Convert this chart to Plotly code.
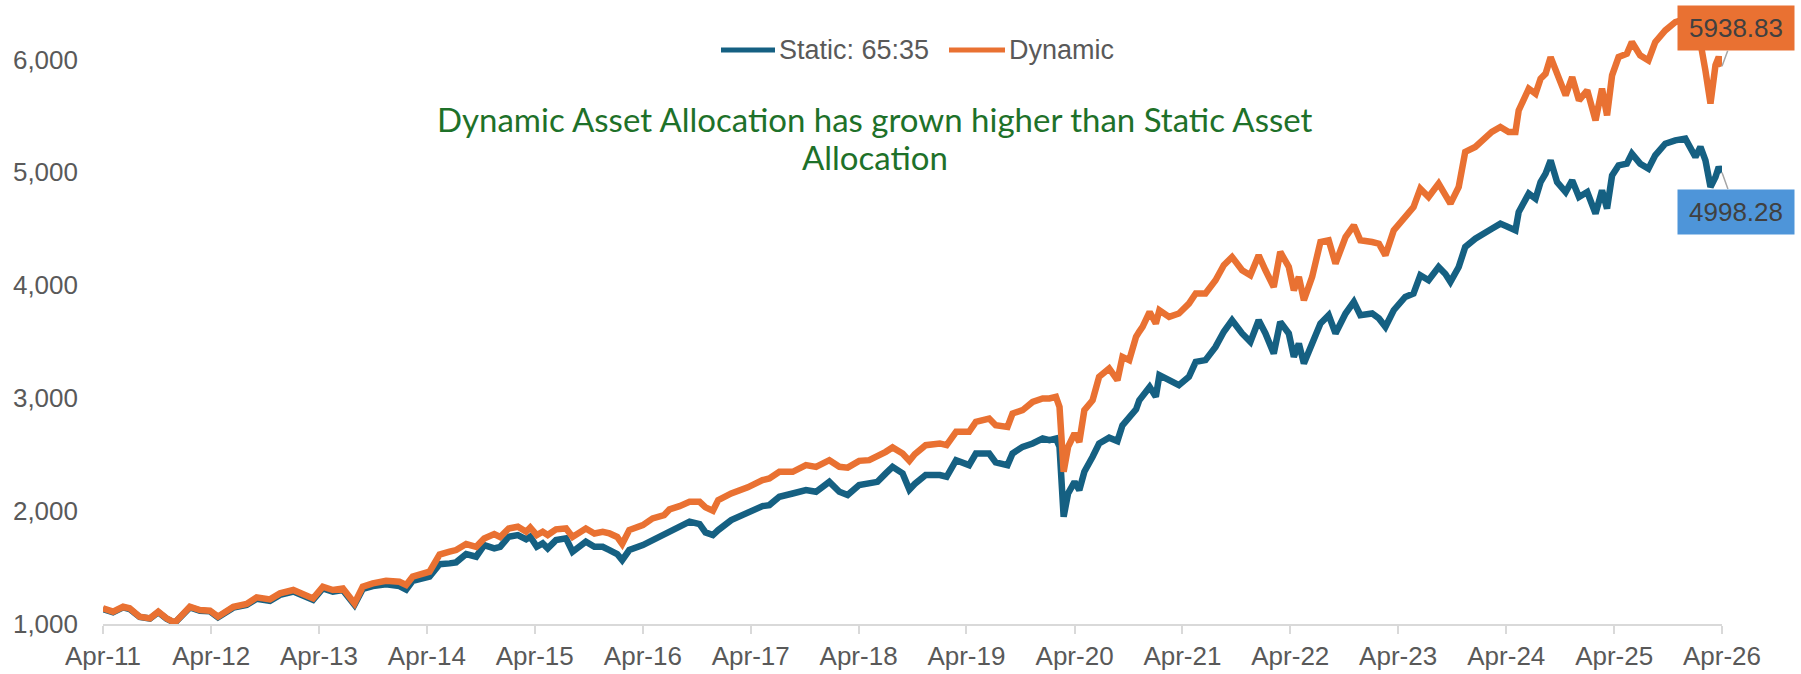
import plotly.graph_objects as go

# Values (growth of 1,000)
dates = [
    "2011-04-01", "2011-05-05", "2011-06-08", "2011-06-30", "2011-08-03", "2011-09-07",
    "2011-10-05", "2011-11-02", "2011-11-30", "2012-01-20", "2012-02-23", "2012-03-28",
    "2012-04-24", "2012-06-15", "2012-07-30", "2012-09-02", "2012-10-17", "2012-11-20",
    "2013-01-04", "2013-03-12", "2013-04-14", "2013-05-18", "2013-06-21", "2013-07-30",
    "2013-08-27", "2013-09-30", "2013-11-14", "2013-12-29", "2014-01-21", "2014-02-12",
    "2014-04-10", "2014-05-14", "2014-06-17", "2014-07-09", "2014-08-12", "2014-09-15",
    "2014-10-12", "2014-11-15", "2014-12-05", "2015-01-03", "2015-02-03", "2015-03-03",
    "2015-03-17", "2015-04-08", "2015-04-28", "2015-05-15", "2015-06-12", "2015-07-16",
    "2015-08-07", "2015-09-21", "2015-10-20", "2015-11-17", "2015-12-10", "2016-01-05",
    "2016-01-22", "2016-02-15", "2016-04-01", "2016-05-04", "2016-06-12", "2016-06-30",
    "2016-08-03", "2016-09-06", "2016-10-10", "2016-10-30", "2016-11-24", "2016-12-12",
    "2017-01-25", "2017-03-22", "2017-05-11", "2017-06-03", "2017-07-07", "2017-08-21",
    "2017-10-05", "2017-11-08", "2017-12-23", "2018-01-26", "2018-02-23", "2018-04-03",
    "2018-05-07", "2018-06-04", "2018-07-02", "2018-07-25", "2018-08-28", "2018-09-20",
    "2018-10-08", "2018-11-14", "2019-01-01", "2019-01-24", "2019-02-25", "2019-04-10",
    "2019-05-03", "2019-06-17", "2019-07-09", "2019-08-18", "2019-09-04", "2019-10-08",
    "2019-11-11", "2019-12-15", "2020-01-07", "2020-01-29", "2020-02-10", "2020-02-24",
    "2020-03-10", "2020-04-01", "2020-04-17", "2020-05-04", "2020-06-01", "2020-06-23",
    "2020-07-27", "2020-08-24", "2020-09-10", "2020-10-03", "2020-10-26", "2020-11-06",
    "2020-11-17", "2020-12-11", "2021-01-01", "2021-01-13", "2021-02-15", "2021-03-20",
    "2021-04-23", "2021-05-16", "2021-06-18", "2021-07-22", "2021-08-19", "2021-09-16",
    "2021-10-20", "2021-11-17", "2021-12-15", "2022-01-07", "2022-02-04", "2022-02-26",
    "2022-03-27", "2022-04-13", "2022-04-30", "2022-05-17", "2022-06-14", "2022-07-12",
    "2022-08-09", "2022-09-01", "2022-10-05", "2022-11-02", "2022-11-24", "2023-01-03",
    "2023-01-26", "2023-02-17", "2023-03-17", "2023-04-25", "2023-05-23", "2023-06-15",
    "2023-07-13", "2023-08-16", "2023-09-08", "2023-09-25", "2023-10-23", "2023-11-14",
    "2023-12-18", "2024-01-21", "2024-02-12", "2024-03-12", "2024-04-09", "2024-05-02",
    "2024-05-13", "2024-06-16", "2024-07-09", "2024-07-26", "2024-08-12", "2024-08-29",
    "2024-09-20", "2024-10-19", "2024-11-10", "2024-12-03", "2024-12-31", "2025-01-28",
    "2025-02-19", "2025-03-08", "2025-03-25", "2025-04-16", "2025-05-14", "2025-05-31",
    "2025-06-28", "2025-07-26", "2025-08-18", "2025-09-21", "2025-10-25", "2025-11-28",
    "2026-01-01", "2026-01-18", "2026-02-04", "2026-02-21", "2026-03-10", "2026-03-21",
    "2026-04-01",
]

static_vals = [
    1132, 1103, 1147, 1133, 1062, 1048, 1104, 1047, 1010, 1146, 1118, 1112,
    1060, 1145, 1168, 1224, 1205, 1258, 1288, 1214, 1316, 1287, 1300, 1170,
    1310, 1336, 1352, 1336, 1305, 1383, 1420, 1530, 1537, 1546, 1620, 1596,
    1699, 1670, 1684, 1773, 1788, 1750, 1773, 1684, 1714, 1670, 1743, 1758,
    1640, 1729, 1684, 1684, 1655, 1620, 1566, 1655, 1699, 1743, 1803, 1830,
    1861, 1906, 1884, 1811, 1788, 1832, 1920, 1980, 2044, 2053, 2127, 2156,
    2186, 2171, 2259, 2171, 2142, 2230, 2245, 2259, 2334, 2392, 2334, 2190,
    2240, 2319, 2319, 2304, 2451, 2407, 2510, 2510, 2431, 2407, 2510, 2569,
    2599, 2643, 2628, 2643, 2569, 1950, 2156, 2259, 2186, 2348, 2481, 2599,
    2650, 2620, 2760, 2835, 2900, 2982, 3020, 3100, 3012, 3204, 3159, 3115,
    3189, 3322, 3337, 3454, 3588, 3690, 3573, 3499, 3690, 3573, 3396, 3675,
    3573, 3366, 3484, 3307, 3484, 3661, 3735, 3573, 3750, 3853, 3735, 3750,
    3706, 3632, 3779, 3897, 3927, 4089, 4044, 4162, 4100, 4030, 4162, 4339,
    4413, 4457, 4500, 4546, 4516, 4487, 4649, 4812, 4767, 4914, 4989, 5106,
    4914, 4826, 4929, 4782, 4826, 4634, 4841, 4679, 4973, 5062, 5077, 5166,
    5077, 5033, 5151, 5254, 5284, 5299, 5136, 5225, 5106, 4871, 4959, 5047,
    4998.28,
]

dynamic_vals = [
    1139, 1109, 1153, 1139, 1065, 1050, 1109, 1050, 1012, 1153, 1124, 1118,
    1065, 1153, 1177, 1236, 1218, 1271, 1301, 1227, 1330, 1301, 1315, 1183,
    1330, 1360, 1383, 1374, 1345, 1419, 1463, 1615, 1640, 1655, 1708, 1684,
    1758, 1797, 1771, 1846, 1861, 1817, 1855, 1788, 1817, 1788, 1838, 1846,
    1771, 1846, 1802, 1817, 1802, 1771, 1708, 1832, 1876, 1935, 1965, 2015,
    2044, 2082, 2082, 2033, 2003, 2097, 2156, 2210, 2274, 2289, 2348, 2348,
    2407, 2392, 2451, 2392, 2385, 2445, 2451, 2481, 2525, 2564, 2510, 2445,
    2504, 2584, 2599, 2584, 2702, 2702, 2790, 2820, 2761, 2746, 2864, 2894,
    2967, 2997, 2997, 3012, 2923, 2348, 2569, 2687, 2613, 2894, 2982, 3189,
    3263, 3159, 3366, 3337, 3543, 3590, 3632, 3764, 3661, 3779, 3720, 3750,
    3838, 3927, 3927, 4044, 4177, 4250, 4133, 4089, 4265, 4133, 3985, 4295,
    4162, 3956, 4074, 3867, 4074, 4383, 4398, 4192, 4427, 4531, 4398, 4383,
    4368, 4265, 4486, 4605, 4693, 4856, 4782, 4900, 4812, 4723, 4871, 5181,
    5225, 5314, 5358, 5402, 5358, 5358, 5549, 5741, 5697, 5830, 5874, 6021,
    5859, 5682, 5844, 5638, 5726, 5460, 5741, 5505, 5859, 6021, 6051, 6154,
    6036, 5991, 6154, 6257, 6331, 6360, 6198, 6150, 5900, 5609, 5950, 6021,
    5938.83,
]

series_names = ["Static: 65:35", "Dynamic"]
line_colors = ["#156082", "#E97132"]
label_fills = ["#4E95D9", "#E97132"]
year_ticks = [f"{y}-04-01" for y in range(2011, 2027)]
y_ticks = [1000, 2000, 3000, 4000, 5000, 6000]

W, H = 1801, 674
ML, MR, MT, MB = 103, 79, 3, 50
PW, PH = W - ML - MR, H - MT - MB


def px(x):
    return (x - ML) / PW


def py(y):
    return (H - MB - y) / PH


fig = go.Figure()
for name, vals, col in zip(series_names, [static_vals, dynamic_vals], line_colors):
    fig.add_trace(go.Scatter(x=dates, y=vals, mode="lines", name=name,
                             line=dict(color=col, width=6.5), showlegend=False))

# end-value labels
for vals, fill, ay in [(dynamic_vals, label_fills[1], -38), (static_vals, label_fills[0], 39)]:
    fig.add_annotation(x=dates[-1], y=vals[-1], text=f"{vals[-1]:.2f}",
                       showarrow=True, arrowhead=0, arrowwidth=1.5, arrowcolor="#A6A6A6",
                       ax=14, ay=ay, bgcolor=fill, width=114, height=42,
                       font=dict(family="Liberation Sans", size=26, color="#404040"))

# legend drawn by hand so the line samples match the length in the original
leg = [(721, 775, 777), (949, 1005, 1007)]
for (x0, x1, xt), name, col in zip(leg, series_names, line_colors):
    fig.add_shape(type="line", xref="paper", yref="paper", x0=px(x0), x1=px(x1),
                  y0=py(50), y1=py(50), line=dict(color=col, width=5))
    fig.add_annotation(xref="paper", yref="paper", x=px(xt), y=py(50), text=name,
                       showarrow=False, xanchor="left", yanchor="middle",
                       font=dict(family="Liberation Sans", size=27, color="#595959"))

# green commentary text
for txt, yy in [("Dynamic Asset Allocation has grown higher than Static Asset", 119),
                ("Allocation", 157)]:
    fig.add_annotation(xref="paper", yref="paper", x=px(875), y=py(yy), text=txt,
                       showarrow=False, xanchor="center", yanchor="middle",
                       font=dict(family="Lato", size=33, color="#1E7129"))

fig.update_xaxes(type="date", range=["2011-04-01", "2026-04-01"], tickvals=year_ticks,
                 tickformat="%b-%y", showgrid=False, zeroline=False,
                 showline=True, linecolor="#D9D9D9", linewidth=1.5,
                 ticks="outside", ticklen=8, tickcolor="#D9D9D9", tickwidth=1.5,
                 tickfont=dict(family="Liberation Sans", size=26, color="#595959"))
fig.update_yaxes(range=[1000, 6500], tickvals=y_ticks, tickformat=",",
                 showgrid=False, zeroline=False, showline=False, ticks="",
                 ticklabelstandoff=24,
                 tickfont=dict(family="Liberation Sans", size=26, color="#595959"))

fig.update_layout(width=W, height=H, margin=dict(l=ML, r=MR, t=MT, b=MB),
                  paper_bgcolor="white", plot_bgcolor="white")

# drop the browser's default page margin so the figure sits at the window origin
fig.write_html("out.html", config={"displayModeBar": False},
               post_script="document.body.style.margin='0';")
